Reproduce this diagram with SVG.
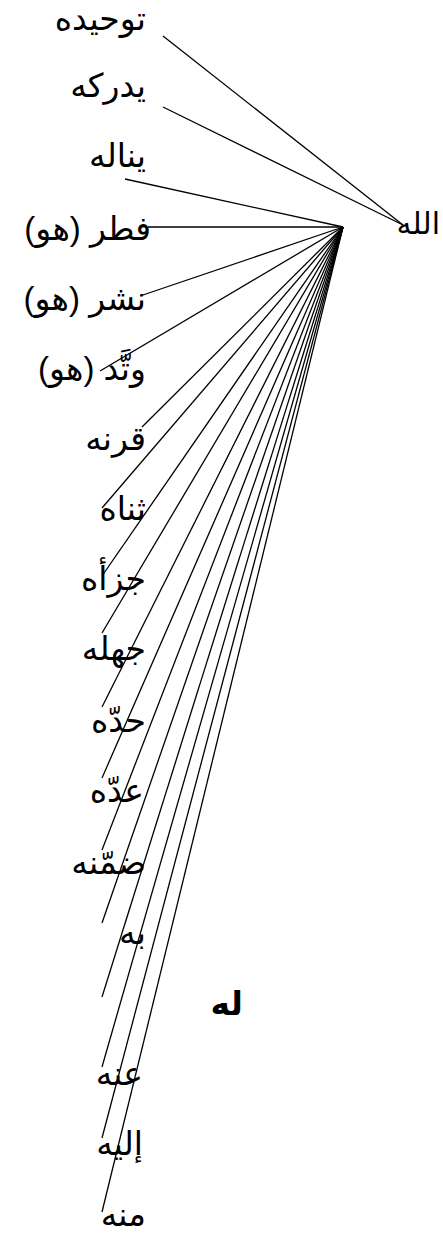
<svg xmlns="http://www.w3.org/2000/svg" width="443" height="1233" viewBox="0 0 443 1233">
  <style>
    .lbl { font-family: "Liberation Sans", "DejaVu Sans", sans-serif; font-size: 33px; fill: #000; direction: rtl; text-anchor: start; }
    .bold { font-weight: bold; }
    .edge { stroke: #000; stroke-width: 1.3; fill: none; }
  </style>
  <rect width="443" height="1233" fill="#fff"/>

  <!-- connectors: two into the name on the right, the rest fan out from one hub -->
  <g id="connectors">
    <line class="edge" x1="163" y1="36" x2="403" y2="225"/>
    <line class="edge" x1="163" y1="107" x2="403" y2="225"/>
    <line class="edge" x1="125" y1="179" x2="343" y2="227"/>
    <line class="edge" x1="148" y1="227" x2="343" y2="227"/>
    <line class="edge" x1="140" y1="296" x2="343" y2="227"/>
    <line class="edge" x1="100" y1="371" x2="343" y2="227"/>
    <line class="edge" x1="142" y1="427" x2="343" y2="227"/>
    <line class="edge" x1="102" y1="508" x2="343" y2="227"/>
    <line class="edge" x1="102" y1="576" x2="343" y2="227"/>
    <line class="edge" x1="102" y1="633" x2="343" y2="227"/>
    <line class="edge" x1="102" y1="707" x2="343" y2="227"/>
    <line class="edge" x1="102" y1="778" x2="343" y2="227"/>
    <line class="edge" x1="102" y1="850" x2="343" y2="227"/>
    <line class="edge" x1="102" y1="923" x2="343" y2="227"/>
    <line class="edge" x1="102" y1="997" x2="343" y2="227"/>
    <line class="edge" x1="102" y1="1067" x2="343" y2="227"/>
    <line class="edge" x1="102" y1="1138" x2="343" y2="227"/>
    <line class="edge" x1="102" y1="1212" x2="343" y2="227"/>
  </g>

  <g id="n-allah"><text class="lbl" x="440" y="234" style="font-size:30px">الله</text></g>
  <g id="n-tawhidih"><text class="lbl" x="146" y="30">توحيده</text></g>
  <g id="n-yudrikuh"><text class="lbl" x="146" y="97">يدركه</text></g>
  <g id="n-yanaluh"><text class="lbl" x="146" y="167">يناله</text></g>
  <g id="n-fatara"><text class="lbl" x="151" y="240">فطر (هو)</text></g>
  <g id="n-nashara"><text class="lbl" x="146" y="310">نشر (هو)</text></g>
  <g id="n-wattada"><text class="lbl" x="146" y="380">وتَّد (هو)</text></g>
  <g id="n-qaranah"><text class="lbl" x="146" y="450">قرنه</text></g>
  <g id="n-thannah"><text class="lbl" x="146" y="520">ثناه</text></g>
  <g id="n-jazzaah"><text class="lbl" x="146" y="590">جزأه</text></g>
  <g id="n-jahilah"><text class="lbl" x="146" y="660">جهله</text></g>
  <g id="n-haddah"><text class="lbl" x="146" y="732">حدّه</text></g>
  <g id="n-addah"><text class="lbl" x="144" y="802">عدّه</text></g>
  <g id="n-dammanah"><text class="lbl" x="146" y="874">ضمّنه</text></g>
  <g id="n-bihi"><text class="lbl" x="146" y="944">به</text></g>
  <g id="n-lahu"><text class="lbl bold" x="243" y="1015">له</text></g>
  <g id="n-anhu"><text class="lbl" x="143" y="1085">عنه</text></g>
  <g id="n-ilayhi"><text class="lbl" x="143" y="1155">إليه</text></g>
  <g id="n-minhu"><text class="lbl" x="146" y="1226">منه</text></g>
</svg>
